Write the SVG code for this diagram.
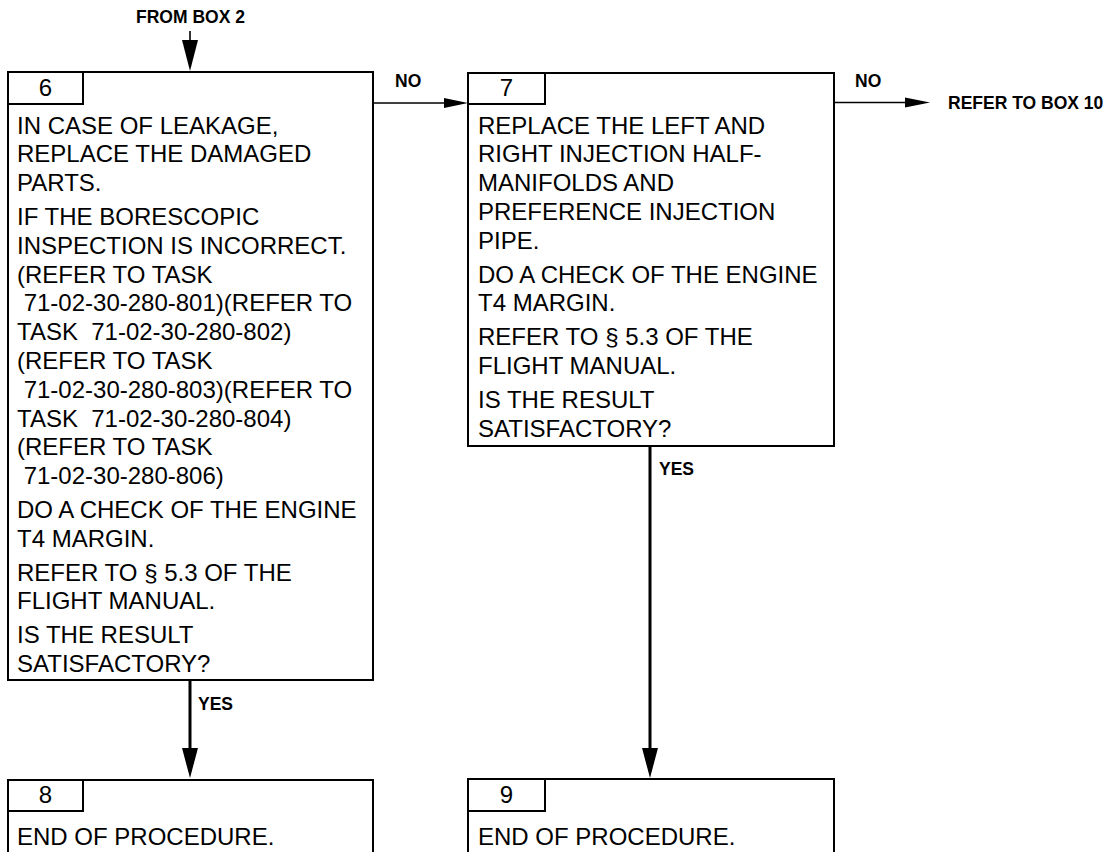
<svg xmlns="http://www.w3.org/2000/svg" width="1118" height="852" viewBox="0 0 1118 852">
<style>
.box{fill:#fff;stroke:#000;stroke-width:2}
.num{fill:none;stroke:#000;stroke-width:2}
.t{font-family:"Liberation Sans",Arial,sans-serif;font-size:24px;fill:#000}
.n{font-family:"Liberation Sans",Arial,sans-serif;font-size:24px;fill:#000;text-anchor:middle}
.lbl{font-family:"Liberation Sans",Arial,sans-serif;font-size:17.5px;font-weight:bold;fill:#000}
.thin{stroke:#000;stroke-width:1.6;fill:none}
.thick{stroke:#000;stroke-width:3;fill:none}
.ah{fill:#000}
</style>
<rect width="1118" height="852" fill="#fff"/>
<g id="connectors">
  <line class="thin" x1="190" y1="31" x2="190" y2="42"/>
  <polygon class="ah" points="182,40 198,40 190,71"/>
  <text class="lbl" x="190.5" y="22.5" text-anchor="middle">FROM BOX 2</text>
  <line class="thin" x1="373" y1="103" x2="446" y2="103"/>
  <polygon class="ah" points="444,98 444,108 468,103"/>
  <text class="lbl" x="395" y="87">NO</text>
  <line class="thin" x1="834" y1="102.5" x2="907" y2="102.5"/>
  <polygon class="ah" points="905,97.5 905,107.5 930,102.5"/>
  <text class="lbl" x="855" y="87">NO</text>
  <text class="lbl" x="948" y="109">REFER TO BOX 10</text>
  <line class="thick" x1="190" y1="680" x2="190" y2="750"/>
  <polygon class="ah" points="182,748 198,748 190,778"/>
  <text class="lbl" x="198" y="710">YES</text>
  <line class="thick" x1="650" y1="446" x2="650" y2="750"/>
  <polygon class="ah" points="642,748 658,748 650,778"/>
  <text class="lbl" x="659" y="475">YES</text>
</g>
<g id="box6">
  <rect class="box" x="8" y="72" width="365" height="608"/>
  <rect class="num" x="8" y="72" width="75" height="32"/>
  <text class="n" x="45.5" y="96">6</text>
  <text class="t" x="17" xml:space="preserve"><tspan x="17" y="133.5">IN CASE OF LEAKAGE,</tspan><tspan x="17" y="162.3">REPLACE THE DAMAGED</tspan><tspan x="17" y="191.1">PARTS.</tspan><tspan x="17" y="224.9">IF THE BORESCOPIC</tspan><tspan x="17" y="253.7">INSPECTION IS INCORRECT.</tspan><tspan x="17" y="282.5">(REFER TO TASK</tspan><tspan x="17" y="311.3"> 71-02-30-280-801)(REFER TO</tspan><tspan x="17" y="340.1">TASK  71-02-30-280-802)</tspan><tspan x="17" y="368.9">(REFER TO TASK</tspan><tspan x="17" y="397.7"> 71-02-30-280-803)(REFER TO</tspan><tspan x="17" y="426.5">TASK  71-02-30-280-804)</tspan><tspan x="17" y="455.3">(REFER TO TASK</tspan><tspan x="17" y="484.1"> 71-02-30-280-806)</tspan><tspan x="17" y="517.9">DO A CHECK OF THE ENGINE</tspan><tspan x="17" y="546.7">T4 MARGIN.</tspan><tspan x="17" y="580.5">REFER TO § 5.3 OF THE</tspan><tspan x="17" y="609.3">FLIGHT MANUAL.</tspan><tspan x="17" y="643.1">IS THE RESULT</tspan><tspan x="17" y="671.9">SATISFACTORY?</tspan></text>
</g>
<g id="box7">
  <rect class="box" x="468" y="73" width="366" height="373"/>
  <rect class="num" x="468" y="73" width="77" height="31"/>
  <text class="n" x="506.5" y="96">7</text>
  <text class="t"><tspan x="478" y="133.5">REPLACE THE LEFT AND</tspan><tspan x="478" y="162.3">RIGHT INJECTION HALF-</tspan><tspan x="478" y="191.1">MANIFOLDS AND</tspan><tspan x="478" y="219.9">PREFERENCE INJECTION</tspan><tspan x="478" y="248.7">PIPE.</tspan><tspan x="478" y="282.5">DO A CHECK OF THE ENGINE</tspan><tspan x="478" y="311.3">T4 MARGIN.</tspan><tspan x="478" y="345.1">REFER TO § 5.3 OF THE</tspan><tspan x="478" y="373.9">FLIGHT MANUAL.</tspan><tspan x="478" y="407.7">IS THE RESULT</tspan><tspan x="478" y="436.5">SATISFACTORY?</tspan></text>
</g>
<g id="box8">
  <rect class="box" x="8" y="780" width="365" height="120"/>
  <rect class="num" x="8" y="780" width="75" height="31"/>
  <text class="n" x="45.5" y="803">8</text>
  <text class="t" x="17" y="845">END OF PROCEDURE.</text>
</g>
<g id="box9">
  <rect class="box" x="468" y="779" width="366" height="120"/>
  <rect class="num" x="468" y="779" width="77" height="32"/>
  <text class="n" x="506.5" y="803">9</text>
  <text class="t" x="478" y="845">END OF PROCEDURE.</text>
</g>
</svg>
